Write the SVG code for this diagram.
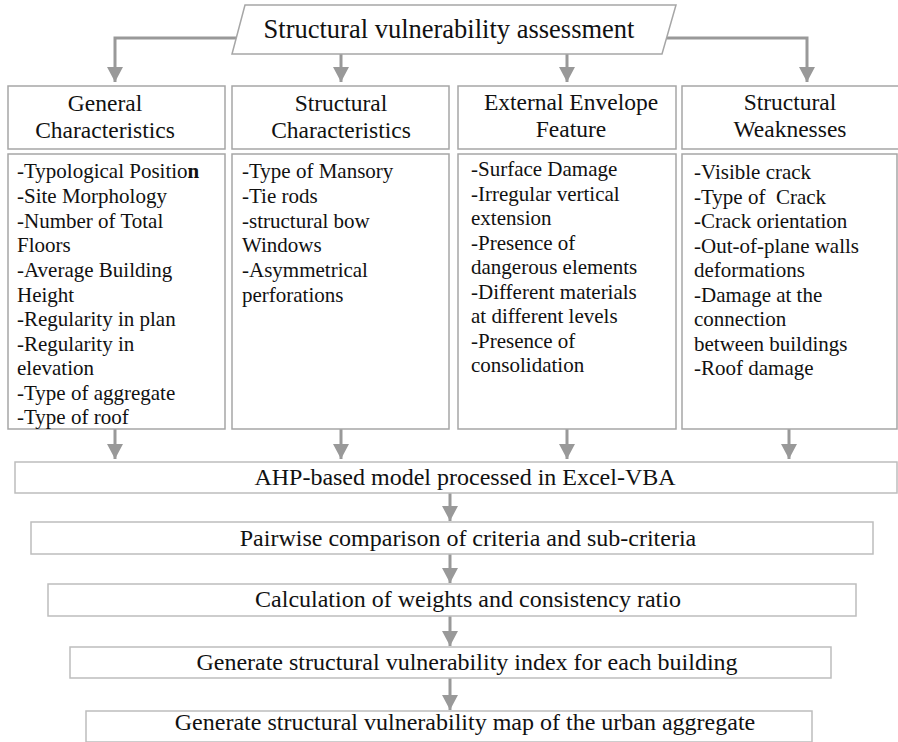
<svg xmlns="http://www.w3.org/2000/svg" width="898" height="742" viewBox="0 0 898 742">
<style>
.box{fill:#fff;stroke:#a6a6a6;stroke-width:1.5}
.lbox{fill:#fff;stroke:#bdbdbd;stroke-width:1.5}
.t{font-family:'Liberation Serif','Times New Roman',Tinos,'Noto Serif','DejaVu Serif',serif;fill:#111}
.title{font-size:26.5px;text-anchor:middle}
.hd{font-size:23.5px;text-anchor:middle}
.ct{font-size:21px}
.st{font-size:24px;text-anchor:middle}
.con{fill:none;stroke:#999;stroke-width:3}
</style>
<defs>
<marker id="ah" markerUnits="userSpaceOnUse" markerWidth="16" markerHeight="16" refX="15" refY="8" orient="auto" viewBox="0 0 16 16">
<path d="M0,0 L15,8 L0,16 z" fill="#999"/>
</marker>
</defs>
<g id="connectors">
<path class="con" d="M237,38 H115 V82" marker-end="url(#ah)"/>
<path class="con" d="M341,54 V82" marker-end="url(#ah)"/>
<path class="con" d="M567,54 V82" marker-end="url(#ah)"/>
<path class="con" d="M666,38 H807 V82" marker-end="url(#ah)"/>
<path class="con" d="M115,429 V459" marker-end="url(#ah)"/>
<path class="con" d="M341,429 V459" marker-end="url(#ah)"/>
<path class="con" d="M567,429 V459" marker-end="url(#ah)"/>
<path class="con" d="M789,429 V459" marker-end="url(#ah)"/>
<path class="con" d="M450,493 V521" marker-end="url(#ah)"/>
<path class="con" d="M450,554 V583" marker-end="url(#ah)"/>
<path class="con" d="M450,616 V646" marker-end="url(#ah)"/>
<path class="con" d="M450,678 V710" marker-end="url(#ah)"/>
</g>
<g id="title">
<polygon class="box" points="245,5 676,5 662,54 232,54"/>
<text class="t title" x="449" y="38">Structural vulnerability assessment</text>
</g>
<g id="h1">
<rect class="box" x="8" y="86" width="217" height="63"/>
<text class="t hd" x="105" y="111">General</text>
<text class="t hd" x="105" y="138">Characteristics</text>
</g>
<g id="h2">
<rect class="box" x="232" y="86" width="217" height="63"/>
<text class="t hd" x="341" y="111">Structural</text>
<text class="t hd" x="341" y="138">Characteristics</text>
</g>
<g id="h3">
<rect class="box" x="458" y="86" width="218" height="63"/>
<text class="t hd" x="571" y="110">External Envelope</text>
<text class="t hd" x="571" y="137">Feature</text>
</g>
<g id="h4">
<rect class="box" x="682" y="86" width="222" height="63"/>
<text class="t hd" x="790" y="110">Structural</text>
<text class="t hd" x="790" y="137">Weaknesses</text>
</g>
<g id="c1">
<rect class="box" x="8" y="154" width="217" height="275"/>
<text class="t ct" x="17" y="178">-Typological Positio<tspan font-weight="bold">n</tspan></text>
<text class="t ct" x="17" y="203">-Site Morphology</text>
<text class="t ct" x="17" y="227.5">-Number of Total</text>
<text class="t ct" x="17" y="252">Floors</text>
<text class="t ct" x="17" y="277">-Average Building</text>
<text class="t ct" x="17" y="301.5">Height</text>
<text class="t ct" x="17" y="326">-Regularity in plan</text>
<text class="t ct" x="17" y="350.5">-Regularity in</text>
<text class="t ct" x="17" y="375">elevation</text>
<text class="t ct" x="17" y="400">-Type of aggregate</text>
<text class="t ct" x="17" y="424">-Type of roof</text>
</g>
<g id="c2">
<rect class="box" x="232" y="154" width="217" height="275"/>
<text class="t ct" x="242" y="178">-Type of Mansory</text>
<text class="t ct" x="242" y="203">-Tie rods</text>
<text class="t ct" x="242" y="227.5">-structural bow</text>
<text class="t ct" x="242" y="252">Windows</text>
<text class="t ct" x="242" y="277">-Asymmetrical</text>
<text class="t ct" x="242" y="301.5">perforations</text>
</g>
<g id="c3">
<rect class="box" x="458" y="154" width="218" height="275"/>
<text class="t ct" x="471" y="176">-Surface Damage</text>
<text class="t ct" x="471" y="200.5">-Irregular vertical</text>
<text class="t ct" x="471" y="225">extension</text>
<text class="t ct" x="471" y="249.5">-Presence of</text>
<text class="t ct" x="471" y="274">dangerous elements</text>
<text class="t ct" x="471" y="298.5">-Different materials</text>
<text class="t ct" x="471" y="323">at different levels</text>
<text class="t ct" x="471" y="347.5">-Presence of</text>
<text class="t ct" x="471" y="372">consolidation</text>
</g>
<g id="c4">
<rect class="box" x="682" y="154" width="215" height="275"/>
<text class="t ct" x="694" y="179">-Visible crack</text>
<text class="t ct" x="694" y="203.5">-Type of&#160; Crack</text>
<text class="t ct" x="694" y="228">-Crack orientation</text>
<text class="t ct" x="694" y="252.5">-Out-of-plane walls</text>
<text class="t ct" x="694" y="277">deformations</text>
<text class="t ct" x="694" y="301.5">-Damage at the</text>
<text class="t ct" x="694" y="326">connection</text>
<text class="t ct" x="694" y="350.5">between buildings</text>
<text class="t ct" x="694" y="375">-Roof damage</text>
</g>
<g id="s1">
<rect class="lbox" x="15" y="462" width="882" height="31"/>
<text class="t st" x="465" y="485">AHP-based model processed in Excel-VBA</text>
</g>
<g id="s2">
<rect class="lbox" x="31" y="522" width="842" height="32"/>
<text class="t st" x="468" y="546">Pairwise comparison of criteria and sub-criteria</text>
</g>
<g id="s3">
<rect class="lbox" x="48" y="584" width="808" height="32"/>
<text class="t st" x="468" y="607">Calculation of weights and consistency ratio</text>
</g>
<g id="s4">
<rect class="lbox" x="70" y="647" width="761" height="31"/>
<text class="t st" x="467" y="670">Generate structural vulnerability index for each building</text>
</g>
<g id="s5">
<rect class="lbox" x="86" y="711" width="726" height="31"/>
<text class="t st" x="465" y="730">Generate structural vulnerability map of the urban aggregate</text>
</g>
</svg>
